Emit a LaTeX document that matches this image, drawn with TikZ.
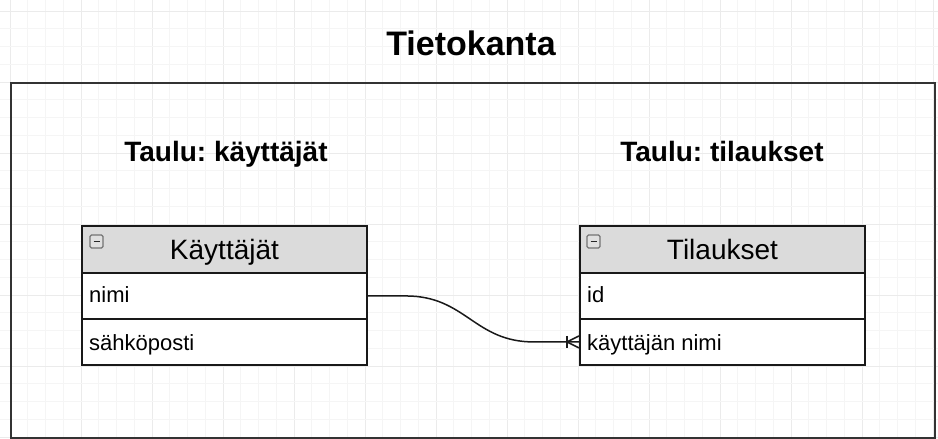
\documentclass[tikz,border=0pt]{standalone}
\usepackage{fontspec}
\setmainfont{Liberation Sans}
\usetikzlibrary{calc}
\frenchspacing
\begin{document}
\begin{tikzpicture}[x=1pt,y=-1pt,
  gridminor/.style={draw=black!4,line width=0.7pt},
  gridmajor/.style={draw=black!8,line width=0.8pt},
  frame/.style={draw=black!80,line width=2pt},
  tablehead/.style={draw=black!90,line width=1.9pt,fill=black!14,
    minimum width=285pt,minimum height=47pt,inner sep=0pt,anchor=north west},
  headtext/.style={anchor=base,inner sep=0pt,font=\fontsize{28}{30}\selectfont},
  tablerow/.style={draw=black!90,line width=1.9pt,fill=white,
    minimum width=285pt,minimum height=46pt,inner sep=0pt,anchor=north west},
  rowtext/.style={anchor=base west,inner sep=0pt,font=\fontsize{22}{24}\selectfont},
  heading/.style={anchor=base,inner sep=0pt,font=\bfseries\fontsize{28}{30}\selectfont},
  minusicon/.style={draw=black!55,fill=black!12,rounded corners=1.5pt,line width=1.1pt},
  relation/.style={draw=black!90,line width=1.5pt}
]
\useasboundingbox (0,0) rectangle (938,439);
\fill[white] (0,0) rectangle (938,439);

% background grid
\foreach \k in {0,...,52}{
  \pgfmathsetmacro{\gx}{10+\k*17.75}
  \pgfmathtruncatemacro{\m}{mod(\k,4)}
  \ifnum\m=0
    \draw[gridmajor] (\gx,0) -- (\gx,439);
  \else
    \draw[gridminor] (\gx,0) -- (\gx,439);
  \fi
}
\foreach \k in {0,...,24}{
  \pgfmathsetmacro{\gy}{11+\k*17.75}
  \pgfmathtruncatemacro{\m}{mod(\k,4)}
  \ifnum\m=0
    \draw[gridmajor] (0,\gy) -- (938,\gy);
  \else
    \draw[gridminor] (0,\gy) -- (938,\gy);
  \fi
}

% database container
\node[frame,minimum width=924pt,minimum height=355pt,anchor=north west,inner sep=0pt] (db) at (10,82) {};
\node[anchor=base,inner sep=0pt,font=\bfseries\fontsize{34}{36}\selectfont] (title) at (471,56) {Tietokanta};

\node[heading] (hk) at (226,161.5) {Taulu: käyttäjät};
\node[heading] (ht) at (722,161.5) {Taulu: tilaukset};

% table: käyttäjät
\node[tablehead] (kthead) at (81,225) {};
\node[tablerow] (ktnimi) at (81,272) {};
\node[tablerow] (ktposti) at (81,318) {};
\node[headtext] (ktname) at ($(kthead.center)+(0,10.5)$) {Käyttäjät};
\node[rowtext] (ktf1) at ($(ktnimi.west)+(8,7)$) {nimi};
\node[rowtext] (ktf2) at ($(ktposti.west)+(8,8.5)$) {sähköposti};

% table: tilaukset
\node[tablehead] (tihead) at (579,225) {};
\node[tablerow] (tiid) at (579,272) {};
\node[tablerow] (tiknimi) at (579,318) {};
\node[headtext] (tiname) at ($(tihead.center)+(0,10.5)$) {Tilaukset};
\node[rowtext] (tif1) at ($(tiid.west)+(8,7)$) {id};
\node[rowtext] (tif2) at ($(tiknimi.west)+(8,8.5)$) {käyttäjän nimi};

% collapse icons
\foreach \ix in {90,587}{
  \draw[minusicon] (\ix,235) rectangle ++(13,13);
  \draw[black!85,line width=1.8pt] (\ix+3.5,241.5) -- (\ix+9.5,241.5);
}

% relation: nimi -> käyttäjän nimi (one to many)
\coordinate (bar) at ($(tiknimi.west)+(-12,0)$);
\draw[relation] (ktnimi.east) -- ++(38,0)
  .. controls ++(60,0) and ++(-60,0) .. ([xshift=-45pt]tiknimi.west)
  -- (tiknimi.west);
\draw[relation] ($(bar)+(0,-6)$) -- ($(bar)+(0,6)$);
\draw[relation] (bar) -- ($(tiknimi.west)+(0,-6)$);
\draw[relation] (bar) -- ($(tiknimi.west)+(0,6)$);
\end{tikzpicture}
\end{document}
